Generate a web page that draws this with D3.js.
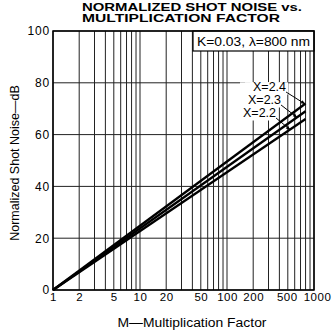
<!DOCTYPE html>
<html><head><meta charset="utf-8">
<script src="https://cdn.jsdelivr.net/npm/d3@7"></script>
<style>body{margin:0;background:#fff}svg{display:block;font-family:"Liberation Sans",Arial,sans-serif}</style>
</head><body><svg id="c" width="336" height="332"></svg>
<script>
// data
const mValues = [1, 800];
const seriesX22 = [0, 66];
const seriesX23 = [0, 69];
const seriesX24 = [0, 72];
const seriesNames = ["X=2.2", "X=2.3", "X=2.4"];
const leaderM = [530, 638, 788];
const xTickLabels = [1, 2, 5, 10, 20, 50, 100, 200, 500, 1000];
const yTickLabels = [0, 20, 40, 60, 80, 100];
const legendText = "K=0.03, \u03bb=800 nm";

const svg = d3.select("#c");
const L = 53, R = 314, T = 31, B = 290;
const x = d3.scaleLog().domain([1, 1000]).range([L, R]);
const y = d3.scaleLinear().domain([0, 100]).range([B, T]);

// grid
const gridM = [];
[1, 10, 100].forEach(d => { for (let k = 1; k <= 9; k++) gridM.push(d * k); });
gridM.push(1000);
svg.append("g").selectAll("line").data(gridM).join("line")
  .attr("x1", d => x(d)).attr("x2", d => x(d)).attr("y1", T).attr("y2", B)
  .attr("stroke", "#222").attr("stroke-width", 1);
svg.append("g").selectAll("line").data(yTickLabels).join("line")
  .attr("x1", L).attr("x2", R).attr("y1", d => y(d)).attr("y2", d => y(d))
  .attr("stroke", "#222").attr("stroke-width", 1);

// axes labels via d3 axes
const xAxis = d3.axisBottom(x).tickValues(xTickLabels).tickFormat(d3.format("d")).tickSize(0).tickPadding(3);
const gx = svg.append("g").attr("transform", `translate(0,${B})`).call(xAxis);
gx.select(".domain").remove();
gx.selectAll("text").attr("font-size", 11.5).attr("letter-spacing", 0.5).attr("fill", "#000")
  .attr("font-family", "Liberation Sans, Arial, sans-serif")
  .attr("dx", d => d === 1000 ? 3 : (d === 500 ? -1 : 0));
const yAxis = d3.axisLeft(y).tickValues(yTickLabels).tickSize(0).tickPadding(3);
const gy = svg.append("g").attr("transform", `translate(${L},0)`).call(yAxis);
gy.select(".domain").remove();
gy.selectAll("text").attr("font-size", 12).attr("letter-spacing", 0.8).attr("fill", "#000")
  .attr("font-family", "Liberation Sans, Arial, sans-serif");

// label region white-out (drawn before lines)
const labelPos = [[243, 117], [248, 104], [253, 91]];
const labG = svg.append("g");
const allSeries = [seriesX22, seriesX23, seriesX24];
const texts = seriesNames.map((name, i) => labG.append("text").attr("x", labelPos[i][0]).attr("y", labelPos[i][1])
    .attr("font-size", 12.5).attr("fill", "#000").text(name));
texts.forEach(t => {
  const bb = t.node().getBBox();
  labG.insert("rect", "text").attr("x", bb.x - 3).attr("y", y(80) - 0.5)
    .attr("width", bb.width + 5).attr("height", bb.y + bb.height + 1 - y(80)).attr("fill", "#fff");
});

// lines
const line = d3.line().x((d, i) => x(mValues[i])).y(d => y(d));
svg.append("g").selectAll("path").data(allSeries).join("path")
  .attr("d", d => line(d)).attr("fill", "none").attr("stroke", "#000").attr("stroke-width", 2.3);

// leaders
texts.forEach((t, i) => {
  const bb = t.node().getBBox();
  const s = allSeries[i];
  const f = Math.log(leaderM[i] / mValues[0]) / Math.log(mValues[1] / mValues[0]);
  const tv = s[0] + (s[1] - s[0]) * f;
  const tx = x(leaderM[i]), ty = y(tv);
  const sx = bb.x + bb.width, sy = bb.y + bb.height - 2;
  svg.append("line").attr("x1", sx).attr("y1", sy).attr("x2", tx).attr("y2", ty)
    .attr("stroke", "#000").attr("stroke-width", 1);
  const ang = Math.atan2(ty - sy, tx - sx);
  const ah = 4, aw = 1.8;
  const p = [[tx, ty], [tx - ah * Math.cos(ang) + aw * Math.sin(ang), ty - ah * Math.sin(ang) - aw * Math.cos(ang)],
             [tx - ah * Math.cos(ang) - aw * Math.sin(ang), ty - ah * Math.sin(ang) + aw * Math.cos(ang)]];
  svg.append("path").attr("d", "M" + p.join("L") + "Z").attr("fill", "#000");
});

// legend box
svg.append("rect").attr("x", 193).attr("y", T).attr("width", R - 193).attr("height", 20)
  .attr("fill", "#fff").attr("stroke", "#000").attr("stroke-width", 1.2);
svg.append("text").attr("x", 197).attr("y", 46).attr("font-size", 12.5).attr("textLength", 113)
  .attr("lengthAdjust", "spacingAndGlyphs").text(legendText);

// frame
svg.append("rect").attr("x", L).attr("y", T).attr("width", R - L).attr("height", B - T)
  .attr("fill", "none").attr("stroke", "#000").attr("stroke-width", 1.5);

// titles
svg.append("text").attr("x", 82).attr("y", 10.5).attr("font-size", 10.5).attr("font-weight", "bold")
  .attr("textLength", 220).attr("lengthAdjust", "spacingAndGlyphs").text("NORMALIZED SHOT NOISE vs.");
svg.append("text").attr("x", 82).attr("y", 22).attr("font-size", 10.5).attr("font-weight", "bold")
  .attr("textLength", 198).attr("lengthAdjust", "spacingAndGlyphs").text("MULTIPLICATION FACTOR");
svg.append("text").attr("x", 192).attr("y", 327).attr("text-anchor", "middle").attr("font-size", 12.5)
  .attr("textLength", 149).attr("lengthAdjust", "spacingAndGlyphs").text("M\u2014Multiplication Factor");
svg.append("text").attr("transform", "translate(19,163) rotate(-90)").attr("text-anchor", "middle")
  .attr("font-size", 12.5).text("Normalized Shot Noise\u2014dB");
</script></body></html>
